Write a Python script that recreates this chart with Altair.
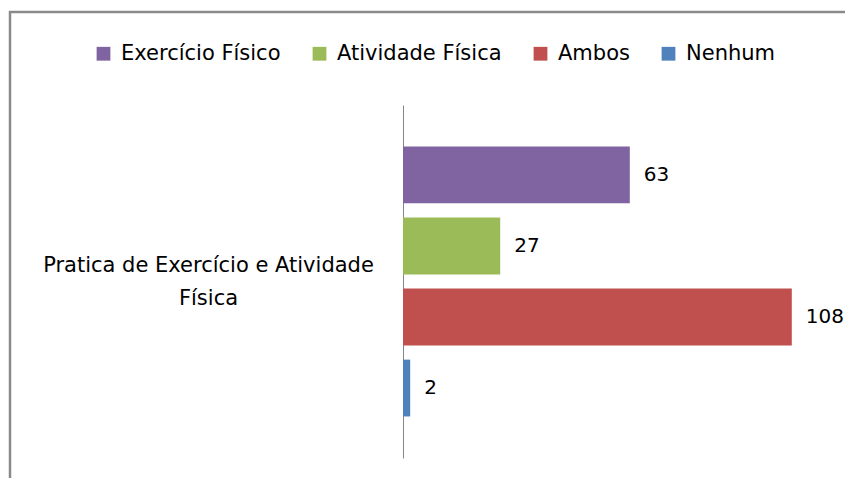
import altair as alt
import pandas as pd

category = "Pratica de Exercício e Atividade Física"
series = ["Exercício Físico", "Atividade Física", "Ambos", "Nenhum"]
values = [63, 27, 108, 2]
colors = ["#8064A2", "#9BBB59", "#C0504D", "#4F81BD"]

df = pd.DataFrame({
    "categoria": [category] * len(series),
    "serie": series,
    "valor": values,
})

FONT = "DejaVu Sans"
FS = 21

base = alt.Chart(df).encode(
    y=alt.Y(
        "categoria:N",
        scale=alt.Scale(paddingInner=0, paddingOuter=0),
        axis=alt.Axis(
            title=None,
            ticks=False,
            tickSize=0,
            domainColor="#868686",
            domainWidth=1,
            labelAlign="center",
            labelBaseline="middle",
            labelPadding=195,
            labelOffset=-16,
            labelFont=FONT,
            labelFontSize=FS,
            labelColor="#000000",
            labelLimit=0,
            labelLineHeight=33,
            labelExpr="[substring(datum.label, 0, lastindexof(datum.label, ' ')), substring(datum.label, lastindexof(datum.label, ' ') + 1)]",
        ),
    ),
    yOffset=alt.YOffset(
        "serie:N",
        sort=series,
        scale=alt.Scale(paddingInner=0.2, paddingOuter=0.585),
    ),
    x=alt.X("valor:Q", scale=alt.Scale(domain=[0, 120], nice=False), axis=None),
)

bars = base.mark_bar().encode(
    color=alt.Color(
        "serie:N",
        sort=series,
        scale=alt.Scale(domain=series, range=colors),
        legend=alt.Legend(
            orient="none",
            legendX=-310,
            legendY=-62,
            direction="horizontal",
            title=None,
            symbolType="square",
            symbolSize=190,
            symbolStrokeWidth=0,
            labelFont=FONT,
            labelFontSize=FS,
            labelColor="#000000",
            labelOffset=7,
            columnPadding=28,
            labelLimit=0,
        ),
    )
)

labels = base.mark_text(
    align="left", baseline="middle", dx=14, font=FONT, fontSize=20, color="#000000"
).encode(text=alt.Text("valor:Q"))

border = alt.Chart(alt.Data(values=[{"b": 1}])).mark_rect(
    filled=False, stroke="#8a8a8a", strokeWidth=2.5
).encode(
    x=alt.value(-393), x2=alt.value(480), y=alt.value(-93), y2=alt.value(430)
)

chart = alt.layer(border, bars, labels).properties(
    width=432,
    height=353,
    padding={"left": 395, "top": 97, "right": 10, "bottom": 20},
    autosize=alt.AutoSizeParams(type="none"),
).configure_view(strokeWidth=0, stroke="transparent")

chart.save("out.html", embed_options={"renderer": "svg", "actions": False})
